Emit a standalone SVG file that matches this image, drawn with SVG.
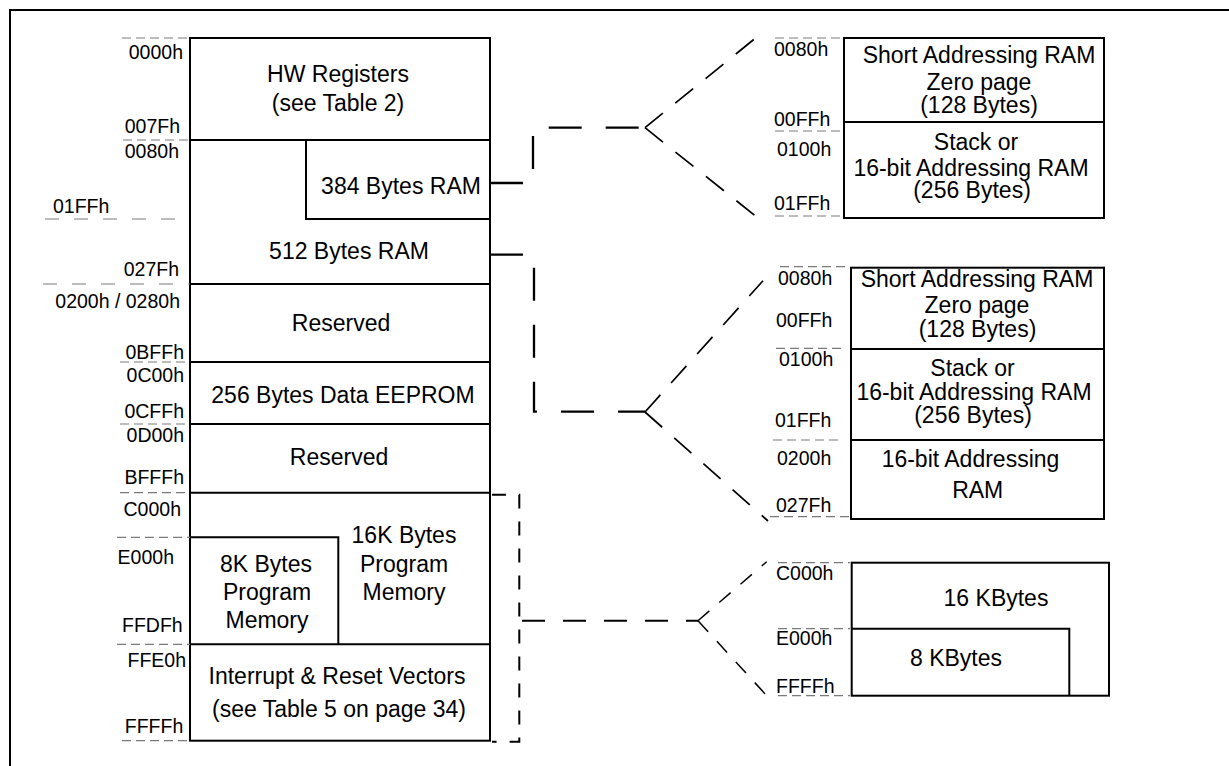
<svg xmlns="http://www.w3.org/2000/svg" width="1229" height="766" viewBox="0 0 1229 766">
<style>
text{font-family:"Liberation Sans",Arial,Helvetica,sans-serif;fill:#000}
.t{font-size:23px;text-anchor:middle}
.a{font-size:19.5px}
.ae{font-size:19.5px;text-anchor:end}
.box{fill:none;stroke:#000;stroke-width:2}
.ln{fill:none;stroke:#000;stroke-width:2}
.gd{fill:none;stroke:#7a7a7a;stroke-width:1.2;stroke-dasharray:9 5}
.gl{fill:none;stroke:#7a7a7a;stroke-width:1.2;stroke-dasharray:14 15}
.c{fill:none;stroke:#000;stroke-width:2.3;stroke-dasharray:33 24}
.cd{fill:none;stroke:#000;stroke-width:1.7;stroke-dasharray:23 16}
.cb{fill:none;stroke:#000;stroke-width:2;stroke-dasharray:14 13}
.ch{fill:none;stroke:#000;stroke-width:2;stroke-dasharray:23 18}
.cs{fill:none;stroke:#000;stroke-width:1.5;stroke-dasharray:15 13}
</style>
<rect width="1229" height="766" fill="#fff"/>
<path d="M10,770 V10 H1235" fill="none" stroke="#000" stroke-width="2"/>

<g id="main-memory-map">
<rect class="box" x="190" y="38" width="300" height="702.7"/>
<path class="ln" d="M190,140 H490 M190,284 H490 M190,362 H490 M190,424 H490 M190,492.7 H490 M190,644.3 H490"/>
<g id="hw-registers">
<text class="t" x="338" y="82">HW Registers</text>
<text class="t" x="338" y="111">(see Table 2)</text>
</g>
<g id="ram-384">
<path class="ln" d="M306,140 V219 H490"/>
<text class="t" x="401" y="194">384 Bytes RAM</text>
</g>
<g id="ram-512"><text class="t" x="349" y="259">512 Bytes RAM</text></g>
<g id="reserved-1"><text class="t" x="341" y="331">Reserved</text></g>
<g id="eeprom"><text class="t" x="343" y="403">256 Bytes Data EEPROM</text></g>
<g id="reserved-2"><text class="t" x="339" y="465">Reserved</text></g>
<g id="prog-16k">
<text class="t" x="404" y="543.3">16K Bytes</text>
<text class="t" x="404" y="571.7">Program</text>
<text class="t" x="404" y="600">Memory</text>
</g>
<g id="prog-8k">
<path class="ln" d="M190,537.3 H338.3 V644.3"/>
<text class="t" x="266" y="571.7">8K Bytes</text>
<text class="t" x="267" y="600">Program</text>
<text class="t" x="267" y="627.7">Memory</text>
</g>
<g id="vectors">
<text class="t" x="337" y="684">Interrupt &amp; Reset Vectors</text>
<text class="t" x="339" y="717">(see Table 5 on page 34)</text>
</g>
<g id="main-addresses">
<path class="gd" d="M122,38 H190 M123,140 H190 M120,362 H190 M120,424 H190 M120,492.7 H190 M117,537.3 H190 M117,644.3 H190 M122,740.7 H190"/>
<path class="gl" d="M45,219 H190 M43,284 H190"/>
<text class="ae" x="183" y="59">0000h</text>
<text class="ae" x="180" y="133">007Fh</text>
<text class="ae" x="179" y="158">0080h</text>
<text class="a" x="53" y="213">01FFh</text>
<text class="ae" x="179" y="276">027Fh</text>
<text class="ae" x="180" y="307.7">0200h / 0280h</text>
<text class="ae" x="184" y="359">0BFFh</text>
<text class="ae" x="184" y="381.7">0C00h</text>
<text class="ae" x="184" y="417.7">0CFFh</text>
<text class="ae" x="184" y="442">0D00h</text>
<text class="ae" x="184" y="484">BFFFh</text>
<text class="ae" x="181" y="515.7">C000h</text>
<text class="ae" x="174" y="564.3">E000h</text>
<text class="ae" x="182.7" y="631.7">FFDFh</text>
<text class="ae" x="186" y="666.7">FFE0h</text>
<text class="ae" x="183.3" y="733.3">FFFFh</text>
</g>
</g>

<g id="detail-384">
<rect class="box" x="844" y="38" width="260" height="180"/>
<path class="ln" d="M844,122 H1104"/>
<text class="t" x="979" y="63">Short Addressing RAM</text>
<text class="t" x="979" y="90">Zero page</text>
<text class="t" x="979" y="113">(128 Bytes)</text>
<text class="t" x="976" y="150">Stack or</text>
<text class="t" x="971" y="176">16-bit Addressing RAM</text>
<text class="t" x="972" y="198">(256 Bytes)</text>
<path class="gd" d="M775,38 H842 M775,131 H842 M775,216 H842"/>
<text class="a" x="774" y="55.7">0080h</text>
<text class="a" x="774" y="125.7">00FFh</text>
<text class="a" x="777" y="155.7">0100h</text>
<text class="a" x="774" y="210">01FFh</text>
</g>

<g id="detail-512">
<rect class="box" x="851" y="267.7" width="253" height="251.3"/>
<path class="ln" d="M851,349 H1104 M851,440 H1104"/>
<text class="t" x="977" y="287.3">Short Addressing RAM</text>
<text class="t" x="977" y="313.3">Zero page</text>
<text class="t" x="977.5" y="336.7">(128 Bytes)</text>
<text class="t" x="972.5" y="376">Stack or</text>
<text class="t" x="974" y="400">16-bit Addressing RAM</text>
<text class="t" x="973" y="422.7">(256 Bytes)</text>
<text class="t" x="970.5" y="466.7">16-bit Addressing</text>
<text class="t" x="977.7" y="498.3">RAM</text>
<path class="gd" d="M780,266.7 H850 M776,348.3 H843 M773,440 H843 M770,516.7 H850"/>
<text class="a" x="778" y="285">0080h</text>
<text class="a" x="776" y="327">00FFh</text>
<text class="a" x="779" y="365.7">0100h</text>
<text class="a" x="775" y="426.7">01FFh</text>
<text class="a" x="777" y="465">0200h</text>
<text class="a" x="776" y="511.7">027Fh</text>
</g>

<g id="detail-program">
<rect class="box" x="851.7" y="562.7" width="257.3" height="133"/>
<path class="ln" d="M851.7,628.7 H1069.3 V695.7"/>
<text class="t" x="996" y="605.7">16 KBytes</text>
<text class="t" x="956" y="666">8 KBytes</text>
<path class="gd" d="M778,562.7 H850 M778,628.7 H850 M778,695.7 H850"/>
<text class="a" x="776" y="580">C000h</text>
<text class="a" x="776" y="645">E000h</text>
<text class="a" x="776" y="692.7">FFFFh</text>
</g>

<g id="connectors">
<path class="c" d="M490,183 H533 V127.7 H643"/>
<path class="cd" d="M645,127.7 L758,36 M645,127.7 L758,218"/>
<path class="c" d="M490,254.7 H534 V411.7 H645"/>
<path class="cd" d="M645,412 L763,280.7 M645,412 L768,521"/>
<path class="cb" d="M492,494.7 H519.3 V741.7 H492"/>
<path class="ch" d="M522,620.7 H698"/>
<path class="cs" d="M698,620.7 L766.7,561.7 M698,620.7 L767,696"/>
</g>
</svg>
